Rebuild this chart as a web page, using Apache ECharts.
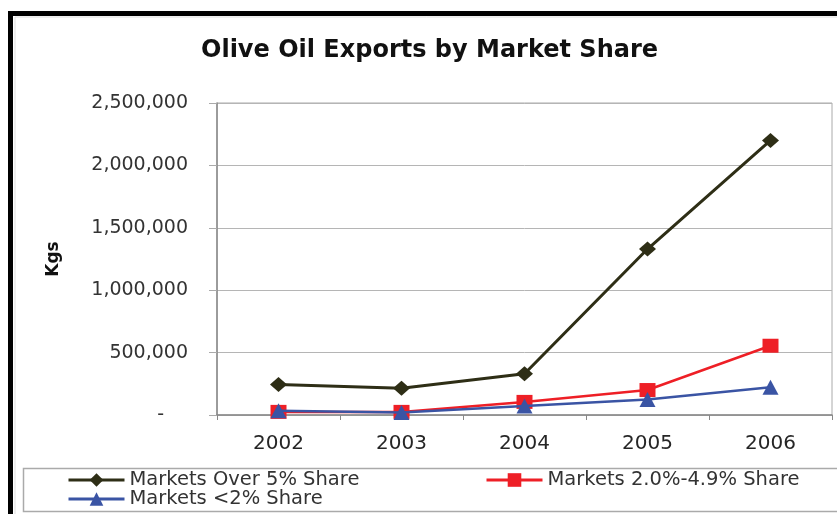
<!DOCTYPE html>
<html>
<head>
<meta charset="utf-8">
<script src="https://cdn.jsdelivr.net/npm/echarts@6/dist/echarts.min.js"></script>
<style>
html,body{margin:0;padding:0;background:#fff;}
#chart{width:837px;height:514px;}
</style>
</head>
<body>
<div id="chart"></div>
<script>
var titleText = 'Olive Oil Exports by Market Share';
var yAxisName = 'Kgs';
var years = ['2002', '2003', '2004', '2005', '2006'];
var seriesNames = ['Markets Over 5% Share', 'Markets 2.0%-4.9% Share', 'Markets <2% Share'];
var over5 = [245000, 215000, 330000, 1330000, 2200000];
var mid2to49 = [25000, 25000, 105000, 200000, 555000];
var under2 = [35000, 20000, 72000, 125000, 222000];
var yTicks = [0, 500000, 1000000, 1500000, 2000000, 2500000];

var FONT = 'DejaVu Sans';
var chart = echarts.init(document.getElementById('chart'), null, {renderer: 'canvas'});

function fmt(v) {
  if (v === 0) return '{z|-}';
  return String(v).replace(/\B(?=(\d{3})+(?!\d))/g, ',');
}

var legendCommon = {
  orient: 'horizontal',
  padding: 0,
  itemWidth: 56,
  itemHeight: 17,
  itemGap: 0,
  selectedMode: false,
  lineStyle: {width: 3},
  textStyle: {fontFamily: FONT, fontSize: 19.5, color: '#333'}
};

chart.setOption({
  animation: false,
  backgroundColor: '#fff',
  title: {
    text: titleText,
    left: 196,
    top: 34,
    textStyle: {fontFamily: FONT, fontSize: 24, fontWeight: 'bold', color: '#111'}
  },
  graphic: [
    {type: 'rect', shape: {x: 10.5, y: 13.5, width: 900, height: 600}, style: {fill: null, stroke: '#000', lineWidth: 5}, z: 100},
    {type: 'rect', shape: {x: 15, y: 17, width: 900, height: 600}, style: {fill: null, stroke: '#ddd', lineWidth: 1}, z: 99},
    {type: 'rect', shape: {x: 23.5, y: 468.5, width: 900, height: 43}, style: {fill: null, stroke: '#aaa', lineWidth: 1.5}, z: 1}
  ],
  legend: [
    Object.assign({data: [seriesNames[0]], left: 67, top: 470}, legendCommon),
    Object.assign({data: [seriesNames[1]], left: 485, top: 470}, legendCommon),
    Object.assign({data: [seriesNames[2]], left: 67, top: 489}, legendCommon)
  ],
  grid: {
    left: 217, top: 103, right: 5, bottom: 99,
    show: true, borderColor: '#aaa', borderWidth: 1, backgroundColor: 'transparent'
  },
  xAxis: {
    type: 'category',
    data: years,
    boundaryGap: true,
    axisLine: {lineStyle: {color: '#888', width: 1.5}},
    axisTick: {show: true, length: 5, lineStyle: {color: '#888'}},
    axisLabel: {margin: 19, fontFamily: FONT, fontSize: 20, color: '#262626'},
    splitLine: {show: false}
  },
  yAxis: {
    type: 'value',
    min: yTicks[0],
    max: yTicks[yTicks.length - 1],
    interval: yTicks[1] - yTicks[0],
    name: yAxisName,
    nameLocation: 'middle',
    nameGap: 155,
    nameRotate: 90,
    nameTextStyle: {fontFamily: FONT, fontSize: 17, fontWeight: 'bold', color: '#111'},
    axisLine: {show: true, lineStyle: {color: '#888', width: 1.5}},
    axisTick: {show: true, length: 8, lineStyle: {color: '#aaa'}},
    axisLabel: {
      margin: 29, fontFamily: FONT, fontSize: 19, color: '#333',
      formatter: fmt,
      rich: {z: {fontFamily: FONT, fontSize: 19, color: '#333', padding: [0, 24, 0, 0]}}
    },
    splitLine: {show: true, lineStyle: {color: '#b5b5b5', width: 1}}
  },
  series: [
    {
      name: seriesNames[0], type: 'line', data: over5,
      symbol: 'diamond', symbolSize: [17, 15],
      lineStyle: {color: '#2e2e16', width: 3},
      itemStyle: {color: '#2e2e16'}, z: 3
    },
    {
      name: seriesNames[1], type: 'line', data: mid2to49,
      symbol: 'rect', symbolSize: [16, 14],
      lineStyle: {color: '#ee1f26', width: 2.5},
      itemStyle: {color: '#ee1f26'}, z: 2
    },
    {
      name: seriesNames[2], type: 'line', data: under2,
      symbol: 'triangle', symbolSize: [16, 15],
      lineStyle: {color: '#3a54a4', width: 2.5},
      itemStyle: {color: '#3a54a4'}, z: 4
    }
  ]
});
</script>
</body>
</html>
